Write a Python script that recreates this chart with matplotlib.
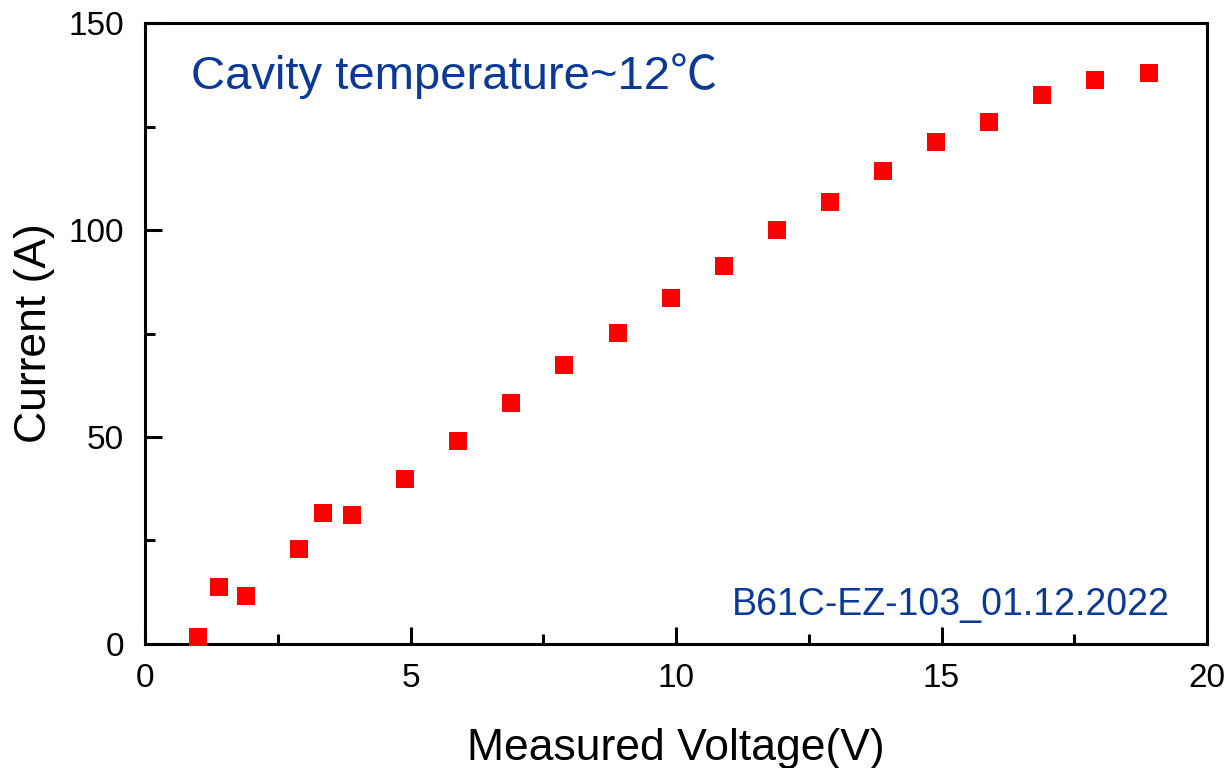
import matplotlib
matplotlib.use('Agg')
import matplotlib.pyplot as plt
from matplotlib.ticker import MultipleLocator

plt.rcParams['font.family'] = ['Liberation Sans', 'Noto Sans CJK SC', 'DejaVu Sans']

# measured points
voltage = [1.0, 1.4, 1.9, 2.9, 3.35, 3.9, 4.9, 5.9, 6.9, 7.9, 8.9, 9.9, 10.9, 11.9,
           12.9, 13.9, 14.9, 15.9, 16.9, 17.9, 18.9]
current = [1.7, 13.8, 11.6, 22.9, 31.6, 31.2, 39.9, 49.0, 58.2, 67.4, 75.1, 83.6,
           91.3, 100.0, 106.8, 114.3, 121.3, 126.1, 132.6, 136.2, 137.9]

blue = '#0b3a96'

fig = plt.figure(figsize=(12.3, 7.68), dpi=100)
ax = fig.add_axes([0.1179, 0.1615, 0.8634, 0.8085])

ax.plot(voltage, current, 's', color='#ff0000', markersize=13, markeredgewidth=0,
        clip_on=False, zorder=3)

ax.set_xlim(0, 20)
ax.set_ylim(0, 150)
ax.xaxis.set_major_locator(MultipleLocator(5))
ax.xaxis.set_minor_locator(MultipleLocator(2.5))
ax.yaxis.set_major_locator(MultipleLocator(50))
ax.yaxis.set_minor_locator(MultipleLocator(25))
ax.tick_params(which='both', direction='in', top=False, right=False, width=2.2,
               labelsize=24)
ax.tick_params(axis='x', pad=14)
ax.tick_params(axis='y', pad=15)
ax.tick_params(which='major', length=12)
ax.tick_params(which='minor', length=7)
for s in ax.spines.values():
    s.set_linewidth(2.2)

ax.set_xlabel('Measured Voltage(V)', fontsize=32, labelpad=24)
ax.set_ylabel('Current (A)', fontsize=32, labelpad=10)

ax.text(0.043, 0.915, 'Cavity temperature~12℃', transform=ax.transAxes,
        fontsize=34, color=blue, va='center', ha='left')
ax.text(0.965, 0.062, 'B61C-EZ-103_01.12.2022', transform=ax.transAxes,
        fontsize=27, color=blue, va='center', ha='right')

fig.savefig('out.png', dpi=100)
